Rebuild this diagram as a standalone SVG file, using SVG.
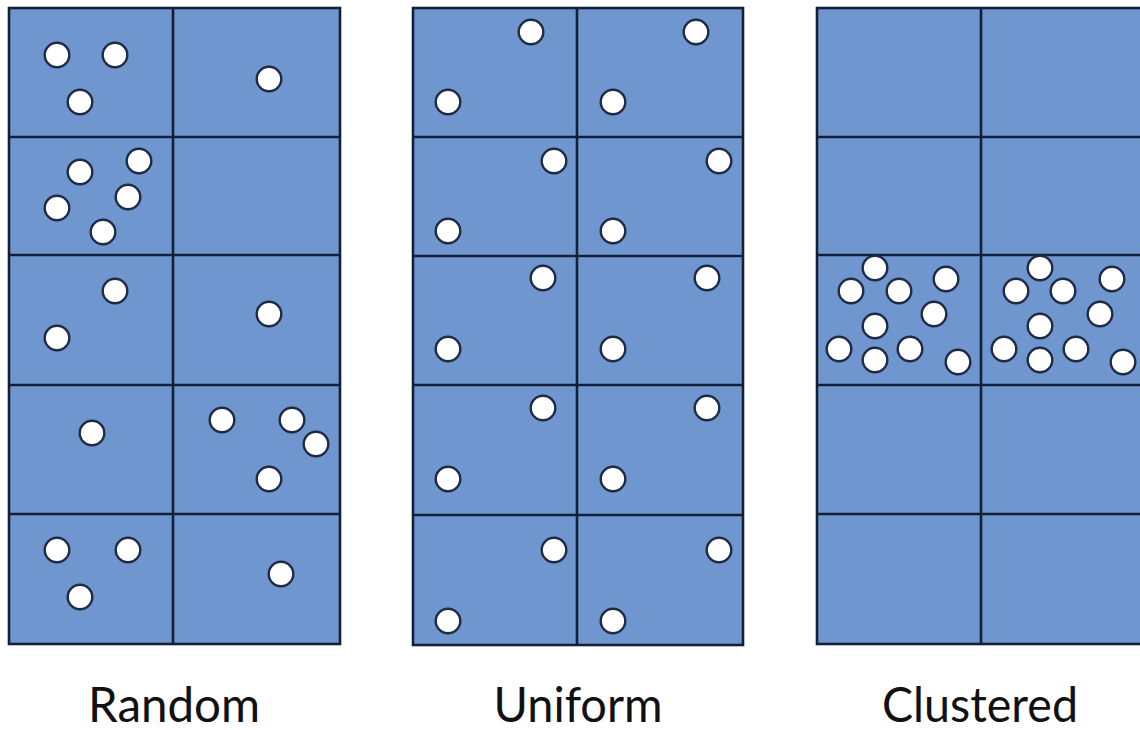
<svg xmlns="http://www.w3.org/2000/svg" width="1140" height="730" viewBox="0 0 1140 730">
<style>
.cell{fill:#7096d0;stroke:#142038;stroke-width:2.6}
.grid{stroke:#142038;stroke-width:2.6;fill:none}
.dot{fill:#ffffff;stroke:#1f2b44;stroke-width:2.4}
.lbl{font-family:Lato,"Open Sans",sans-serif;font-size:48px;fill:#111111;text-anchor:middle}
</style>
<rect width="1140" height="730" fill="#ffffff"/>
<g id="random">
<rect class="cell" x="9" y="8" width="331" height="636"/>
<path class="grid" d="M173,8V644M9,137H340M9,255H340M9,385H340M9,514H340"/>
<g id="random-dots">
<circle class="dot" cx="57" cy="55" r="12.3"/><circle class="dot" cx="115" cy="55" r="12.3"/><circle class="dot" cx="80" cy="102" r="12.3"/>
<circle class="dot" cx="269" cy="79" r="12.3"/>
<circle class="dot" cx="80" cy="172" r="12.3"/><circle class="dot" cx="139" cy="161" r="12.3"/><circle class="dot" cx="57" cy="208" r="12.3"/><circle class="dot" cx="128" cy="197" r="12.3"/><circle class="dot" cx="103" cy="232" r="12.3"/>
<circle class="dot" cx="115" cy="291" r="12.3"/><circle class="dot" cx="57" cy="338" r="12.3"/>
<circle class="dot" cx="269" cy="314" r="12.3"/>
<circle class="dot" cx="92" cy="433" r="12.3"/>
<circle class="dot" cx="222" cy="420" r="12.3"/><circle class="dot" cx="292" cy="420" r="12.3"/><circle class="dot" cx="316" cy="444" r="12.3"/><circle class="dot" cx="269" cy="479" r="12.3"/>
<circle class="dot" cx="57" cy="550" r="12.3"/><circle class="dot" cx="128" cy="550" r="12.3"/><circle class="dot" cx="80" cy="597" r="12.3"/>
<circle class="dot" cx="281" cy="574" r="12.3"/>
</g>
<text class="lbl" x="174" y="722" textLength="172" lengthAdjust="spacingAndGlyphs">Random</text>
</g>
<g id="uniform">
<rect class="cell" x="413" y="8" width="330" height="637"/>
<path class="grid" d="M577,8V645M413,137H743M413,256H743M413,385H743M413,515H743"/>
<g id="uniform-dots">
<circle class="dot" cx="531" cy="32" r="12.3"/><circle class="dot" cx="448" cy="102" r="12.3"/><circle class="dot" cx="696" cy="32" r="12.3"/><circle class="dot" cx="613" cy="102" r="12.3"/>
<circle class="dot" cx="554" cy="161" r="12.3"/><circle class="dot" cx="448" cy="231" r="12.3"/><circle class="dot" cx="719" cy="161" r="12.3"/><circle class="dot" cx="613" cy="231" r="12.3"/>
<circle class="dot" cx="543" cy="278" r="12.3"/><circle class="dot" cx="448" cy="349" r="12.3"/><circle class="dot" cx="707" cy="278" r="12.3"/><circle class="dot" cx="613" cy="349" r="12.3"/>
<circle class="dot" cx="543" cy="408" r="12.3"/><circle class="dot" cx="448" cy="479" r="12.3"/><circle class="dot" cx="707" cy="408" r="12.3"/><circle class="dot" cx="613" cy="479" r="12.3"/>
<circle class="dot" cx="554" cy="550" r="12.3"/><circle class="dot" cx="448" cy="621" r="12.3"/><circle class="dot" cx="719" cy="550" r="12.3"/><circle class="dot" cx="613" cy="621" r="12.3"/>
</g>
<text class="lbl" x="578" y="722" textLength="169" lengthAdjust="spacingAndGlyphs">Uniform</text>
</g>
<g id="clustered">
<rect class="cell" x="817" y="8" width="330" height="636"/>
<path class="grid" d="M981,8V644M817,137H1147M817,255H1147M817,385H1147M817,514H1147"/>
<g id="clustered-dots">
<circle class="dot" cx="875" cy="268" r="12.3"/><circle class="dot" cx="851" cy="291" r="12.3"/><circle class="dot" cx="899" cy="291" r="12.3"/><circle class="dot" cx="946" cy="279" r="12.3"/><circle class="dot" cx="934" cy="314" r="12.3"/><circle class="dot" cx="875" cy="326" r="12.3"/><circle class="dot" cx="839" cy="349" r="12.3"/><circle class="dot" cx="875" cy="360" r="12.3"/><circle class="dot" cx="910" cy="349" r="12.3"/><circle class="dot" cx="958" cy="362" r="12.3"/>
<circle class="dot" cx="1040" cy="268" r="12.3"/><circle class="dot" cx="1016" cy="291" r="12.3"/><circle class="dot" cx="1063" cy="291" r="12.3"/><circle class="dot" cx="1112" cy="279" r="12.3"/><circle class="dot" cx="1100" cy="314" r="12.3"/><circle class="dot" cx="1040" cy="326" r="12.3"/><circle class="dot" cx="1004" cy="349" r="12.3"/><circle class="dot" cx="1040" cy="360" r="12.3"/><circle class="dot" cx="1076" cy="349" r="12.3"/><circle class="dot" cx="1123" cy="362" r="12.3"/>
</g>
<text class="lbl" x="980" y="722" textLength="196" lengthAdjust="spacingAndGlyphs">Clustered</text>
</g>
<g id="connectors"/>
</svg>
